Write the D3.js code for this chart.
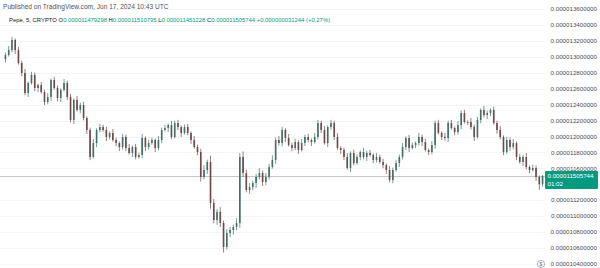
<!DOCTYPE html>
<html>
<head>
<meta charset="utf-8">
<script src="https://cdn.jsdelivr.net/npm/d3@7"></script>
<style>
  body { margin: 0; background: #fff; }
  svg { display: block; font-family: "Liberation Sans", Arial, sans-serif; }
</style>
</head>
<body>
<svg width="600" height="268"></svg>
<script>
// prices are in units of 1e-6 (PEPE/USD, 5 min candles)
const firstOpen = 12.97;
const closes = [
  13.023, 13.086, 13.211, 13.086, 12.922, 12.797, 12.546, 12.671, 12.772, 12.609,
  12.646, 12.558, 12.433, 12.496, 12.709, 12.609, 12.483, 12.584, 12.671, 12.496,
  12.207, 12.458, 12.333, 12.395, 12.232, 12.082, 11.743, 11.918, 12.082, 12.119,
  12.082, 11.994, 12.044, 11.956, 11.918, 11.868, 11.994, 11.856, 11.793, 11.868,
  11.743, 11.768, 11.981, 11.868, 11.918, 11.956, 11.856, 11.956, 12.082, 12.107,
  12.144, 11.994, 12.169, 12.119, 12.044, 12.119,
  12.044, 11.956, 11.868, 11.805, 11.492, 11.580, 11.680, 11.165, 10.952, 11.053,
  10.914, 10.614, 10.789, 10.827, 10.864, 10.914, 11.743, 11.542, 11.329, 11.366,
  11.416, 11.492, 11.542, 11.429, 11.492, 11.617, 11.705, 11.956, 11.918, 12.082,
  11.981, 11.893, 11.856, 11.931, 11.831, 11.918, 11.994, 11.956, 11.931, 11.994,
  12.169, 12.082, 11.918, 12.119, 12.169, 11.994, 11.856, 11.831,
  11.743, 11.605, 11.793, 11.667, 11.743, 11.805, 11.743, 11.793, 11.768, 11.705,
  11.743, 11.680, 11.642, 11.580, 11.454, 11.580, 11.667, 11.743, 11.868, 11.981,
  11.856, 11.893, 11.918, 11.994, 11.931, 11.831, 11.805, 11.893, 12.169, 12.044,
  11.994, 11.981, 12.169, 12.107, 12.056, 12.144, 12.295, 12.182, 12.182, 12.119,
  11.994, 12.207, 12.333, 12.270, 12.295, 12.333, 12.169, 12.082, 11.994, 11.805,
  11.956, 11.868, 11.918, 11.743, 11.680, 11.743, 11.617, 11.580, 11.605, 11.492,
  11.400, 11.506
];
// wick lengths above the body top / below the body bottom
const wickUp = [
  .03, .05, .04, .02, .04, .03, .05, .02, .04, .03,
  .02, .04, .03, .05, .02, .04, .03, .02, .05, .03,
  .04, .02, .05, .03, .04, .02, .03, .05, .02, .04,
  .03, .04, .02, .05, .03, .02, .04, .03, .05, .02,
  .04, .03, .05, .02, .04, .03, .02, .05, .03, .04,
  .02, .05, .03, .04, .02, .03,
  .04, .02, .05, .03, .04, .06, .03, .08, .05, .04,
  .06, .03, .05, .04, .03, .06, .05, .07, .04, .05,
  .03, .04, .06, .03, .05, .04, .06, .03, .05, .04,
  .02, .05, .03, .04, .02, .05, .03, .04, .02, .05,
  .04, .03, .05, .02, .04, .03, .05, .02,
  .03, .05, .02, .04, .03, .02, .05, .03, .04, .02,
  .05, .03, .04, .02, .05, .03, .04, .03, .05, .02,
  .04, .03, .02, .05, .03, .04, .02, .05, .03, .04,
  .02, .05, .03, .04, .02, .05, .03, .04, .02, .05,
  .03, .04, .02, .05, .03, .02, .04, .03, .05, .02,
  .04, .03, .05, .02, .04, .03, .05, .02, .04, .03,
  .02, .01
];
const wickDn = [
  .04, .02, .03, .05, .02, .04, .03, .05, .02, .04,
  .05, .02, .04, .03, .05, .02, .04, .05, .02, .04,
  .03, .05, .02, .04, .03, .05, .04, .02, .05, .03,
  .02, .05, .03, .02, .04, .05, .03, .04, .02, .05,
  .03, .02, .04, .05, .03, .02, .05, .03, .04, .02,
  .05, .03, .02, .04, .05, .02,
  .03, .05, .02, .04, .06, .03, .05, .07, .04, .06,
  .05, .07, .03, .05, .06, .04, .06, .05, .03, .05,
  .04, .06, .03, .05, .04, .03, .02, .05, .03, .04,
  .05, .02, .04, .03, .05, .02, .04, .03, .05, .02,
  .03, .04, .02, .05, .03, .04, .02, .05,
  .04, .02, .05, .03, .02, .04, .03, .05, .02, .04,
  .03, .02, .04, .05, .03, .04, .02, .05, .03, .04,
  .05, .02, .04, .03, .05, .02, .04, .03, .05, .02,
  .04, .03, .05, .02, .04, .03, .05, .02, .04, .03,
  .05, .02, .04, .03, .05, .04, .02, .05, .03, .04,
  .02, .05, .03, .04, .02, .05, .03, .04, .02, .05,
  .07, .03
];
const yTicks = [13.6, 13.4, 13.2, 13.0, 12.8, 12.6, 12.4, 12.2, 12.0, 11.8, 11.6, 11.2, 11.0, 10.8, 10.6, 10.4];
const lastValue = 11.505744;
const lastPrice = "0.000011505744";
const countdown = "01:02";
const legend = [
  ["Pepe, 5, CRYPTO ", "#131722"],
  ["O", "#131722"], ["0.000011479298 ", "#089981"],
  ["H", "#131722"], ["0.000011510795 ", "#089981"],
  ["L", "#131722"], ["0.000011451228 ", "#089981"],
  ["C", "#131722"], ["0.000011505744 ", "#089981"],
  ["+0.000000031244 (+0.27%)", "#089981"]
];

const plotRight = 545;
const svg = d3.select("svg");

const y = d3.scaleLinear().domain([10.4, 13.6]).range([264, 9]);
const x = d3.scaleBand().domain(d3.range(closes.length)).range([3, plotRight]).padding(0.5);

const candles = closes.map((c, i) => {
  const o = i === 0 ? firstOpen : closes[i - 1];
  return { i, o, c, hi: Math.max(o, c) + wickUp[i], lo: Math.min(o, c) - wickDn[i] };
});

// grid
svg.append("g").selectAll("line").data(yTicks).join("line")
  .attr("x1", 0).attr("x2", plotRight)
  .attr("y1", d => Math.round(y(d)) + 0.5).attr("y2", d => Math.round(y(d)) + 0.5)
  .attr("stroke", "#f3f4f7");

// last price line
const ty = y(lastValue);
svg.append("line")
  .attr("x1", 0).attr("x2", plotRight)
  .attr("y1", Math.round(ty) + 0.5).attr("y2", Math.round(ty) + 0.5)
  .attr("stroke", "#c4c8cc");

// candles
const up = "#3f7168", down = "#6f4848";
const col = d => d.c >= d.o ? up : down;
const cx = d => x(d.i) + x.bandwidth() / 2;
const cg = svg.append("g");
cg.selectAll("line").data(candles).join("line")
  .attr("x1", cx).attr("x2", cx)
  .attr("y1", d => y(d.hi)).attr("y2", d => y(d.lo))
  .attr("stroke", col).attr("stroke-width", 0.7);
cg.selectAll("rect").data(candles).join("rect")
  .attr("x", d => x(d.i))
  .attr("width", x.bandwidth())
  .attr("y", d => y(Math.max(d.o, d.c)))
  .attr("height", d => Math.max(1, Math.abs(y(d.o) - y(d.c))))
  .attr("fill", col);

// right axis labels
svg.append("g").selectAll("text").data(yTicks).join("text")
  .attr("x", 597).attr("y", d => y(d))
  .attr("dy", "0.35em")
  .attr("text-anchor", "end")
  .attr("font-size", 6.2)
  .attr("fill", "#4a4e57")
  .text(d => (d * 1e-6).toFixed(12));

// last price tag
svg.append("rect").attr("x", plotRight).attr("y", ty - 5).attr("width", 53).attr("height", 18)
  .attr("rx", 1).attr("fill", "#089981");
svg.append("text").attr("x", 547.5).attr("y", ty).attr("dy", "0.35em")
  .attr("font-size", 6.2).attr("fill", "#fff").text(lastPrice);
svg.append("text").attr("x", 547.5).attr("y", ty + 8).attr("dy", "0.35em")
  .attr("font-size", 6.2).attr("fill", "#fff").text(countdown);

// currency icon
svg.append("circle").attr("cx", 541).attr("cy", 264).attr("r", 3.6)
  .attr("fill", "none").attr("stroke", "#8a8e96").attr("stroke-width", 0.7);
svg.append("text").attr("x", 541).attr("y", 264).attr("dy", "0.35em").attr("text-anchor", "middle")
  .attr("font-size", 5).attr("fill", "#6a6e76").text("$");

// header
svg.append("text").attr("x", 3).attr("y", 9)
  .attr("font-size", 6.6).attr("fill", "#50545c")
  .text("Published on TradingView.com, Jun 17, 2024 10:43 UTC");

svg.append("text").attr("x", 9).attr("y", 22)
  .attr("font-size", 5.9)
  .selectAll("tspan").data(legend).join("tspan")
  .attr("fill", d => d[1]).text(d => d[0]);
</script>
</body>
</html>
